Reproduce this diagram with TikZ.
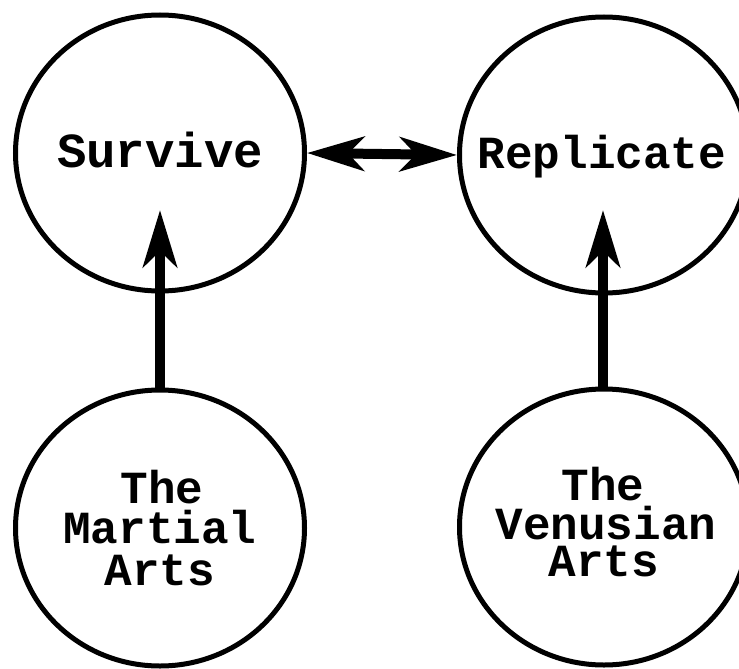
\documentclass[tikz,border=0pt]{standalone}
\usepackage{fontspec}
\newfontfamily\tw{Liberation Mono Bold}
\usetikzlibrary{arrows.meta,shapes.geometric}
\begin{document}
\begin{tikzpicture}[x=1pt,y=-1pt,
  bubble/.style={ellipse,draw,line width=5pt,minimum width=289pt,minimum height=276pt,
    inner sep=0pt},
  word/.style={anchor=base,inner sep=0pt,font=\tw\fontsize{46}{41}\selectfont},
  bigword/.style={word,font=\tw\fontsize{49}{41}\selectfont},
  tip/.tip={Stealth[length=57pt,width=34pt,inset=16pt]},
  arr/.style={line width=10pt,-tip},
  darr/.style={line width=10pt,tip-tip}
]
\useasboundingbox (0,0) rectangle (739,669);
\fill[white] (0,0) rectangle (739,669);
% circles
\node[bubble] (surv) at (160,153) {};
\node[bubble] (rep) at (604,155) {};
\node[bubble] (mart) at (160,528) {};
\node[bubble] (ven) at (604,527) {};
% texts
\node[bigword] (survT) at (160,167) {Survive};
\node[word] (repT) at (602,168) {Replicate};
\node[word] (martA) at (162,503) {The};
\node[word] (martB) at (160,543) {Martial};
\node[word] (martC) at (160,585) {Arts};
\node[word] (venA) at (603,500) {The};
\node[word] (venB) at (606,539) {Venusian};
\node[word] (venC) at (604,576) {Arts};
% connectors
\coordinate (survIn) at (160,210);
\coordinate (repIn) at (603,210);
\draw[darr] (surv.east) -- (rep.west);
\draw[arr] (mart.north) -- (survIn);
\draw[arr] (ven.north -| repIn) -- (repIn);
\end{tikzpicture}
\end{document}
